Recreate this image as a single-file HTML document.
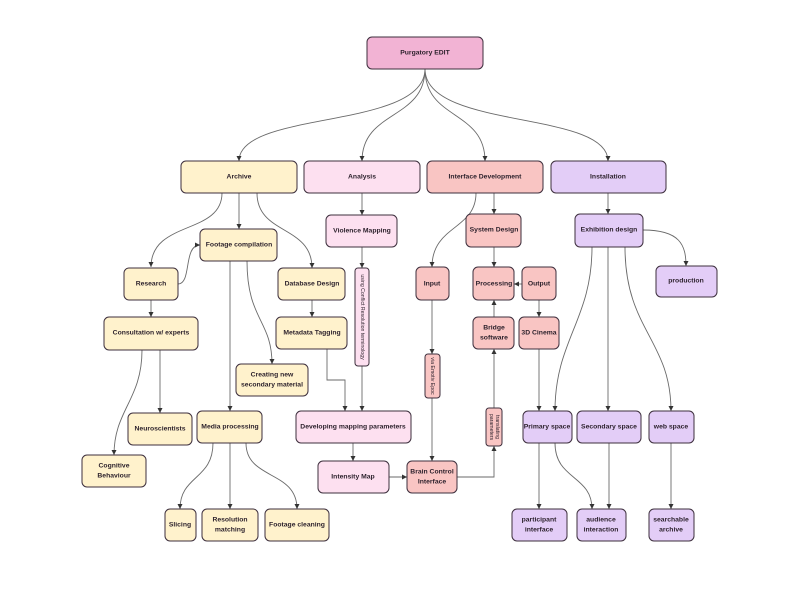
<!DOCTYPE html>
<html><head><meta charset="utf-8"><style>
html,body{margin:0;padding:0;background:#fff;}
svg{display:block;}
text{font-family:"Liberation Sans",sans-serif;font-weight:bold;font-size:6.8px;fill:#2a1f2a;text-anchor:middle;dominant-baseline:central;}
.l{fill:none;stroke:#6a6a6a;stroke-width:0.9;marker-end:url(#a);}
rect{stroke:#3d2f3d;stroke-width:1;}
.y{fill:#fff2cc;}.p{fill:#fde0f0;}.s{fill:#f9c5c3;}.v{fill:#e3cdf7;}.t{fill:#f2b3d4;}
.sm{font-weight:normal;font-size:5.2px;}
</style></head><body>
<svg width="800" height="599" viewBox="0 0 800 599" xmlns="http://www.w3.org/2000/svg">
<defs><marker id="a" markerWidth="6" markerHeight="6" refX="5" refY="3" orient="auto" markerUnits="userSpaceOnUse"><path d="M0,0.5 L5,3 L0,5.5 z" fill="#333"/></marker></defs>
<path class="l" d="M425,69 C425,130 239,110 239,161"/>
<path class="l" d="M425,69 C425,120 362,110 362,161"/>
<path class="l" d="M425,69 C425,120 485,110 485,161"/>
<path class="l" d="M425,69 C425,130 608,110 608,161"/>
<path class="l" d="M239,193 L239,229"/>
<path class="l" d="M222,193 C222,235 151,220 151,267"/>
<path class="l" d="M257,193 C257,235 312,225 312,268"/>
<path class="l" d="M178,284 C192,284 183,245 200,245"/>
<path class="l" d="M151,300 L151,317"/>
<path class="l" d="M160,350 L160,413"/>
<path class="l" d="M142,350 C142,400 114,410 114,455"/>
<path class="l" d="M230,261 L230,411"/>
<path class="l" d="M247,261 C247,320 272,320 272,364"/>
<path class="l" d="M312,300 L312,317"/>
<path class="l" d="M327,349 L327,380 L345,380 L345,411"/>
<path class="l" d="M362,193 L362,215"/>
<path class="l" d="M362,247 L362,268"/>
<path class="l" d="M362,366 L362,411"/>
<path class="l" d="M353,443 L353,461"/>
<path class="l" d="M389,477 L407,477"/>
<path class="l" d="M213,443 C213,480 180,475 180,509"/>
<path class="l" d="M230,443 L230,509"/>
<path class="l" d="M246,443 C246,480 297,470 297,509"/>
<path class="l" d="M494,193 L494,214"/>
<path class="l" d="M476,193 C476,230 432,225 432,267"/>
<path class="l" d="M494,247 L494,267"/>
<path class="l" d="M522,284 L514,284"/>
<path class="l" d="M539,300 L539,317"/>
<path class="l" d="M494,317 L494,300"/>
<path class="l" d="M432,300 L432,354"/>
<path class="l" d="M432,398 L432,461"/>
<path class="l" d="M457,477 L494,477 L494,446"/>
<path class="l" d="M494,408 L494,349"/>
<path class="l" d="M539,349 L539,411"/>
<path class="l" d="M608,193 L608,214"/>
<path class="l" d="M643,230 C680,230 686,245 686,266"/>
<path class="l" d="M592,247 C592,320 555,340 555,411"/>
<path class="l" d="M608,247 L608,411"/>
<path class="l" d="M625,247 C625,330 671,340 671,411"/>
<path class="l" d="M539,443 L539,509"/>
<path class="l" d="M555,443 C555,480 592,475 592,509"/>
<path class="l" d="M609,443 L609,509"/>
<path class="l" d="M671,443 L671,509"/>
<rect class="t" x="367" y="37" width="116" height="32" rx="5"/><text x="425" y="53">Purgatory EDIT</text>
<rect class="y" x="181" y="161" width="116" height="32" rx="5"/><text x="239" y="177">Archive</text>
<rect class="p" x="304" y="161" width="116" height="32" rx="5"/><text x="362" y="177">Analysis</text>
<rect class="s" x="427" y="161" width="116" height="32" rx="5"/><text x="485" y="177">Interface Development</text>
<rect class="v" x="551" y="161" width="115" height="32" rx="5"/><text x="608" y="177">Installation</text>
<rect class="p" x="326" y="215" width="71" height="32" rx="5"/><text x="362" y="231">Violence Mapping</text>
<rect class="y" x="200" y="229" width="77" height="32" rx="5"/><text x="239" y="245">Footage compilation</text>
<rect class="y" x="124" y="268" width="54" height="32" rx="5"/><text x="151" y="284">Research</text>
<rect class="y" x="278" y="268" width="67" height="32" rx="5"/><text x="312" y="284">Database Design</text>
<rect class="y" x="104" y="317" width="94" height="33" rx="5"/><text x="151" y="333">Consultation w/ experts</text>
<rect class="y" x="276" y="317" width="71" height="32" rx="5"/><text x="312" y="333">Metadata Tagging</text>
<rect class="p" x="355" y="268" width="14" height="98" rx="3"/><text class="sm" transform="translate(362,317) rotate(90)">using Conflict Resolution terminology</text>
<rect class="y" x="236" y="364" width="72" height="32" rx="5"/><text x="272" y="375">Creating new</text><text x="272" y="385">secondary material</text>
<rect class="y" x="128" y="413" width="64" height="32" rx="5"/><text x="160" y="429">Neuroscientists</text>
<rect class="y" x="197" y="411" width="65" height="32" rx="5"/><text x="230" y="427">Media processing</text>
<rect class="p" x="296" y="411" width="115" height="32" rx="5"/><text x="353" y="427">Developing mapping parameters</text>
<rect class="y" x="82" y="455" width="64" height="32" rx="5"/><text x="114" y="466">Cognitive</text><text x="114" y="476">Behaviour</text>
<rect class="p" x="318" y="461" width="71" height="32" rx="5"/><text x="353" y="477">Intensity Map</text>
<rect class="s" x="407" y="461" width="50" height="32" rx="5"/><text x="432" y="472">Brain Control</text><text x="432" y="482">Interface</text>
<rect class="y" x="165" y="509" width="31" height="32" rx="5"/><text x="180" y="525">Slicing</text>
<rect class="y" x="202" y="509" width="56" height="32" rx="5"/><text x="230" y="520">Resolution</text><text x="230" y="530">matching</text>
<rect class="y" x="265" y="509" width="64" height="32" rx="5"/><text x="297" y="525">Footage cleaning</text>
<rect class="s" x="466" y="214" width="55" height="33" rx="5"/><text x="494" y="230">System Design</text>
<rect class="s" x="416" y="267" width="33" height="33" rx="5"/><text x="432" y="284">Input</text>
<rect class="s" x="473" y="267" width="41" height="33" rx="5"/><text x="494" y="284">Processing</text>
<rect class="s" x="522" y="267" width="34" height="33" rx="5"/><text x="539" y="284">Output</text>
<rect class="s" x="473" y="317" width="41" height="32" rx="5"/><text x="494" y="328">Bridge</text><text x="494" y="338">software</text>
<rect class="s" x="519" y="317" width="40" height="32" rx="5"/><text x="539" y="333">3D Cinema</text>
<rect class="s" x="425" y="354" width="15" height="44" rx="3"/><text class="sm" transform="translate(432,376) rotate(90)">via Emotiv Epoc</text>
<rect class="s" x="486" y="408" width="16" height="38" rx="3"/><text class="sm" transform="translate(497,427) rotate(90)">translating</text><text class="sm" transform="translate(491,427) rotate(90)">parameters</text>
<rect class="v" x="575" y="214" width="68" height="33" rx="5"/><text x="609" y="230">Exhibition design</text>
<rect class="v" x="656" y="266" width="61" height="31" rx="5"/><text x="686" y="281">production</text>
<rect class="v" x="523" y="411" width="49" height="32" rx="5"/><text x="547" y="427">Primary space</text>
<rect class="v" x="577" y="411" width="64" height="32" rx="5"/><text x="609" y="427">Secondary space</text>
<rect class="v" x="649" y="411" width="45" height="32" rx="5"/><text x="671" y="427">web space</text>
<rect class="v" x="512" y="509" width="55" height="32" rx="5"/><text x="539" y="520">participant</text><text x="539" y="530">interface</text>
<rect class="v" x="577" y="509" width="49" height="32" rx="5"/><text x="601" y="520">audience</text><text x="601" y="530">interaction</text>
<rect class="v" x="649" y="509" width="45" height="32" rx="5"/><text x="671" y="520">searchable</text><text x="671" y="530">archive</text>
</svg>
</body></html>
